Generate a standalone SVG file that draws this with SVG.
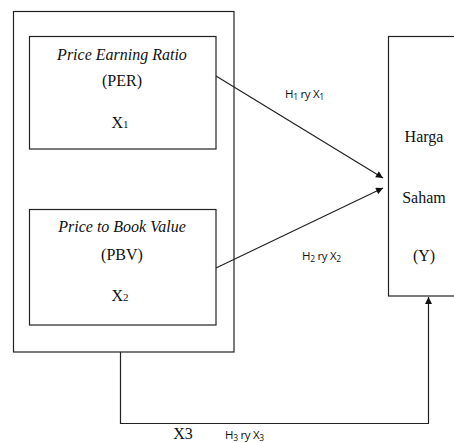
<svg xmlns="http://www.w3.org/2000/svg" width="454" height="443" viewBox="0 0 454 443">
<style>
.box{fill:none;stroke:#222;stroke-width:1.2}
.ln{fill:none;stroke:#222;stroke-width:1.2}
.t{font-family:"Liberation Serif","Times New Roman",serif;font-size:16px;fill:#111;text-anchor:middle}
.i{font-style:italic}
.h{font-family:"Open Sans","Liberation Sans",sans-serif;font-size:11.5px;fill:#111;letter-spacing:-0.3px}
.sub{font-size:8.5px}
</style>
<defs>
<marker id="ah" viewBox="0 0 10 10" refX="10" refY="5" markerWidth="8" markerHeight="7" markerUnits="userSpaceOnUse" orient="auto">
<path d="M0,0 L10,5 L0,10 z" fill="#111"/>
</marker>
</defs>
<rect width="454" height="443" fill="#fff"/>
<g id="outer">
<rect class="box" x="13.5" y="11.5" width="220.5" height="340.5"/>
</g>
<g id="per">
<rect class="box" x="29.5" y="36.5" width="186.5" height="112.5"/>
<text class="t i" x="122" y="60">Price Earning Ratio</text>
<text class="t" x="122" y="86">(PER)</text>
<text class="t" x="120" y="128">X<tspan font-size="11px">1</tspan></text>
</g>
<g id="pbv">
<rect class="box" x="29.5" y="209.5" width="186.5" height="115.5"/>
<text class="t i" x="122" y="232">Price to Book Value</text>
<text class="t" x="122" y="260">(PBV)</text>
<text class="t" x="120" y="301">X<tspan font-size="11px">2</tspan></text>
</g>
<g id="harga">
<rect class="box" x="388.5" y="36.5" width="80" height="259.5"/>
<text class="t" x="424" y="142">Harga</text>
<text class="t" x="424" y="203">Saham</text>
<text class="t" x="424" y="261">(Y)</text>
</g>
<g id="connectors">
<line class="ln" x1="216" y1="76" x2="383" y2="178" marker-end="url(#ah)"/>
<line class="ln" x1="216" y1="268" x2="383" y2="188" marker-end="url(#ah)"/>
<polyline class="ln" points="120.5,352 120.5,423.5 428.5,423.5 428.5,297" marker-end="url(#ah)"/>
</g>
<g id="labels">
<text class="h" x="285" y="98">H<tspan class="sub" dy="2">1</tspan><tspan dy="-2"> ry X</tspan><tspan class="sub" dy="2">1</tspan></text>
<text class="h" x="302" y="260">H<tspan class="sub" dy="2">2</tspan><tspan dy="-2"> ry X</tspan><tspan class="sub" dy="2">2</tspan></text>
<text class="t" x="183" y="439">X3</text>
<text class="h" x="225" y="439">H<tspan class="sub" dy="2">3</tspan><tspan dy="-2"> ry X</tspan><tspan class="sub" dy="2">3</tspan></text>
</g>
</svg>
